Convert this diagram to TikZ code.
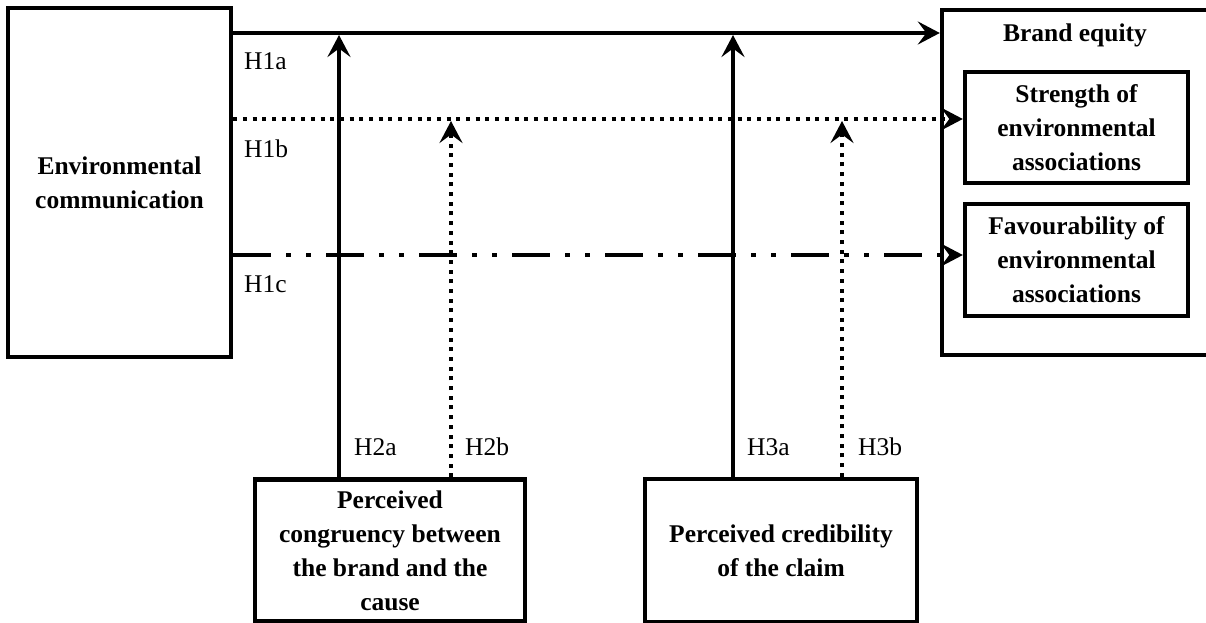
\documentclass[tikz,border=0pt]{standalone}
\usepackage{fontspec}
\setmainfont{Liberation Serif}
\usetikzlibrary{arrows.meta}
\begin{document}
\begin{tikzpicture}[x=1pt,y=-1pt,line width=4.4pt,
  box/.style={draw,rectangle,inner sep=0pt,align=center,font=\bfseries\fontsize{25.5}{34}\selectfont},
  lbl/.style={anchor=base west,inner sep=0pt,font=\fontsize{25.5}{30}\selectfont},
  ttl/.style={anchor=base,inner sep=0pt,font=\bfseries\fontsize{25.5}{30}\selectfont},
  arr/.style={-{Stealth[length=22pt,width=23pt,inset=8.5pt]}},
  dotline/.style={dash pattern=on 4pt off 5.7pt},
  dashdot/.style={dash pattern=on 38pt off 15pt on 5pt off 15pt on 5pt off 15pt}]
\useasboundingbox (0,0) rectangle (1206,623);
% boxes
\node[box,minimum width=223pt,minimum height=349pt] (env) at (119.5,182.5) {Environmental\\communication};
\node[box,minimum width=267pt,minimum height=345pt] (brand) at (1075.5,182.5) {};
\node[ttl] (betxt) at (1075,42) {Brand equity};
\node[box,minimum width=223pt,minimum height=111pt] (str) at (1076.5,127.5) {Strength of\\environmental\\associations};
\node[box,minimum width=223pt,minimum height=112pt] (fav) at (1076.5,260) {Favourability of\\environmental\\associations};
\node[box,minimum width=270pt,minimum height=142pt] (cong) at (390,550.5) {Perceived\\congruency between\\the brand and the\\cause};
\node[box,minimum width=272pt,minimum height=143pt] (cred) at (781,550.5) {Perceived credibility\\of the claim};
% coordinates
\coordinate (ya) at (0,33);
\coordinate (yb) at (0,119);
\coordinate (yc) at (0,255);
\coordinate (t2a) at (339,35);
\coordinate (t2b) at (451,121);
\coordinate (t3a) at (733,35);
\coordinate (t3b) at (842,121);
% horizontal connectors
\draw[arr] (env.east |- ya) -- (brand.west |- ya);
\draw[arr,dotline] (env.east |- yb) -- (str.west |- yb);
\draw[arr,dashdot] (env.east |- yc) -- (fav.west |- yc);
% vertical connectors
\draw[arr] (cong.north -| t2a) -- (t2a);
\draw[arr,dotline] (cong.north -| t2b) -- (t2b);
\draw[arr] (cred.north -| t3a) -- (t3a);
\draw[arr,dotline] (cred.north -| t3b) -- (t3b);
% labels
\node[lbl] (h1a) at (242,70) {H1a};
\node[lbl] (h1b) at (242,157) {H1b};
\node[lbl] (h1c) at (242,292) {H1c};
\node[lbl] (h2a) at (352,455) {H2a};
\node[lbl] (h2b) at (463,455) {H2b};
\node[lbl] (h3a) at (745,455) {H3a};
\node[lbl] (h3b) at (856,455) {H3b};
\end{tikzpicture}
\end{document}
